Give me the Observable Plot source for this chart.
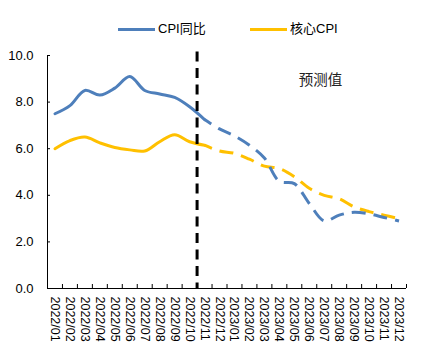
<!DOCTYPE html>
<html>
<head>
<meta charset="utf-8">
<script src="https://cdn.jsdelivr.net/npm/d3@7"></script>
<script src="https://cdn.jsdelivr.net/npm/@observablehq/plot@0.6"></script>
<style>
  body { margin: 0; background: #fff; font-family: "Liberation Sans", Arial, "Noto Sans CJK SC", sans-serif; }
  #wrap { width: 444px; height: 364px; position: relative; overflow: hidden; background: #fff; }
  #legend { position: relative; height: 40px; }
  .sw { position: absolute; top: 27.5px; width: 37px; height: 3px; }
  .lb { position: absolute; top: 20px; font-size: 13px; line-height: 18px; color: #000; white-space: nowrap; }
  svg { display: block; }
</style>
</head>
<body>
<div id="wrap">
  <div id="legend">
    <div class="sw" style="left:118px;background:#4e7fbb"></div>
    <div class="lb" style="left:158px">CPI同比</div>
    <div class="sw" style="left:250px;background:#ffc000"></div>
    <div class="lb" style="left:290px">核心CPI</div>
  </div>
  <div id="chart"></div>
</div>
<script>
const months = ["2022/01","2022/02","2022/03","2022/04","2022/05","2022/06","2022/07","2022/08","2022/09","2022/10","2022/11","2022/12",
                "2023/01","2023/02","2023/03","2023/04","2023/05","2023/06","2023/07","2023/08","2023/09","2023/10","2023/11","2023/12"];
// actual values 2022/01 - 2022/11
const cpiActual  = [7.5, 7.85, 8.5, 8.3, 8.6, 9.1, 8.5, 8.35, 8.2, 7.8, 7.25];
const coreActual = [6.0, 6.35, 6.5, 6.25, 6.05, 5.95, 5.9, 6.3, 6.6, 6.3, 6.15];
// forecast values 2022/11 - 2023/12
const cpiForecast  = [7.25, 6.85, 6.55, 6.15, 5.6, 4.6, 4.5, 3.65, 2.9, 3.15, 3.27, 3.2, 3.05, 2.9];
const coreForecast = [6.15, 5.9, 5.8, 5.55, 5.25, 5.15, 4.8, 4.3, 4.0, 3.85, 3.5, 3.3, 3.15, 3.0];
const forecastFrom = 10; // index of 2022/11
const yTicks = [0, 2, 4, 6, 8, 10];
const notes = [{label: "预测值", x: 18.25, y: 8.93}];

const blue = "#4e7fbb", gold = "#ffc000";
const rows = (vals, start) => vals.map((v, k) => ({i: start + k, v}));

const chart = Plot.plot({
  width: 444, height: 324,
  marginTop: 15, marginBottom: 76, marginLeft: 47, marginRight: 38,
  x: {type: "linear", domain: [0, months.length]},
  y: {domain: [0, 10]},
  style: {fontFamily: '"Liberation Sans", Arial, "Noto Sans CJK SC", sans-serif', fontSize: "13px", color: "#000", background: "transparent"},
  marks: [
    Plot.axisX(d3.range(months.length).map(i => i + 0.5), {tickSize: 0, tickPadding: 8, tickRotate: 90, tickFormat: d => months[Math.floor(d)], fontSize: 12.5, label: null}),
    Plot.axisX(d3.range(1, months.length + 1), {tickSize: 4, dy: -4, tickFormat: () => "", label: null}),
    Plot.axisY(yTicks, {tickSize: 0, tickPadding: 14, tickFormat: d => d.toFixed(1), fontSize: 13, label: null}),
    Plot.axisY(yTicks, {tickSize: 3, dx: 3, tickFormat: () => "", label: null}),
    Plot.ruleY([0], {stroke: "#000"}),
    Plot.ruleX([0], {stroke: "#000"}),
    Plot.line(rows(coreActual, 0), {x: d => d.i + 0.5, y: "v", stroke: gold, strokeWidth: 3, curve: "catmull-rom"}),
    Plot.line(rows(cpiActual, 0), {x: d => d.i + 0.5, y: "v", stroke: blue, strokeWidth: 3, curve: "catmull-rom"}),
    Plot.line(rows(coreForecast, forecastFrom), {x: d => d.i + 0.5, y: "v", stroke: gold, strokeWidth: 3, curve: "catmull-rom", strokeDasharray: "14,8", strokeDashoffset: 6, strokeLinecap: "butt"}),
    Plot.line(rows(cpiForecast, forecastFrom), {x: d => d.i + 0.5, y: "v", stroke: blue, strokeWidth: 3, curve: "catmull-rom", strokeDasharray: "14,8", strokeDashoffset: 6, strokeLinecap: "butt"}),
    Plot.ruleX([forecastFrom], {y1: 10.15, y2: 0, stroke: "#000", strokeWidth: 3, strokeDasharray: "10,6.5"}),
    Plot.text(notes, {x: "x", y: "y", text: "label", fontSize: 14.5, fontFamily: '"Noto Sans CJK SC", sans-serif', fill: "#222"})
  ]
});
document.getElementById("chart").appendChild(chart);
</script>
</body>
</html>
